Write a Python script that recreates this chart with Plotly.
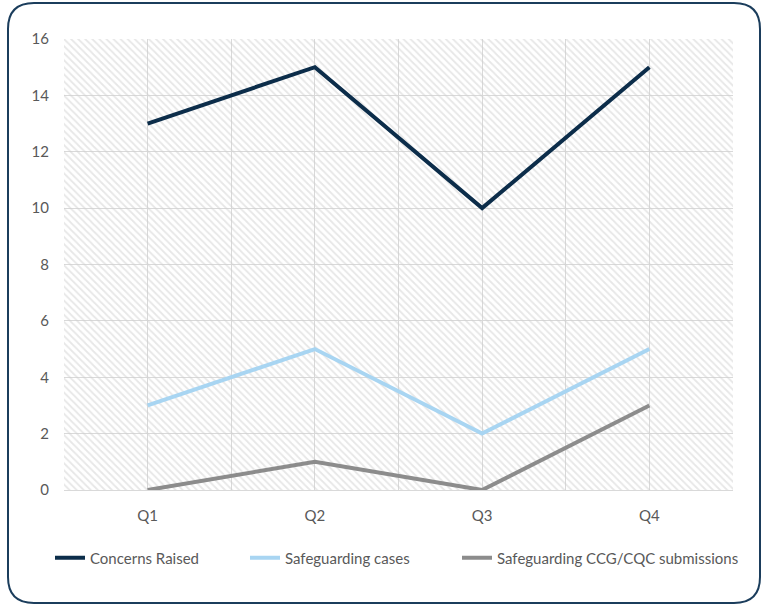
import plotly.graph_objects as go

categories = ["Q1", "Q2", "Q3", "Q4"]
concerns_raised = [13, 15, 10, 15]
safeguarding_cases = [3, 5, 2, 5]
ccg_cqc_submissions = [0, 1, 0, 3]
y_max = 16

idx = list(range(len(categories)))
font_family = "Lato, 'Open Sans', sans-serif"
tick_color = "#595959"
grid_color = "#d9d9d9"

fig = go.Figure()

# hatched plot-area background
fig.add_trace(go.Bar(
    x=idx, y=[y_max] * len(idx), width=1,
    marker=dict(color="rgba(0,0,0,0)", line=dict(width=0),
                pattern=dict(shape="\\", fgcolor="#cfcfcf", bgcolor="rgba(0,0,0,0)",
                             size=5, solidity=0.35)),
    showlegend=False, hoverinfo="skip",
))

series = [
    ("Concerns Raised", concerns_raised, "#0c2d4a", "legend"),
    ("Safeguarding cases", safeguarding_cases, "#a8d5f2", "legend2"),
    ("Safeguarding CCG/CQC submissions", ccg_cqc_submissions, "#8c8c8c", "legend3"),
]
for name, vals, col, lg in series:
    fig.add_trace(go.Scatter(x=idx, y=vals, name=name, mode="lines", legend=lg,
                             line=dict(color=col, width=4)))

W, H = 762, 606
ml, mr, mt, mb = 64, 29, 39, 116
pw = W - ml - mr

# rounded border in pixel coordinates relative to the plot area's bottom-left
x0, x1 = 8 - ml, 760 - ml
y0, y1 = (H - 603) - mb, (H - 3) - mb
r = 26
path = (f"M {x0+r},{y0} L {x1-r},{y0} Q {x1},{y0} {x1},{y0+r} "
        f"L {x1},{y1-r} Q {x1},{y1} {x1-r},{y1} L {x0+r},{y1} "
        f"Q {x0},{y1} {x0},{y1-r} L {x0},{y0+r} Q {x0},{y0} {x0+r},{y0} Z")
fig.add_shape(type="path", path=path, xref="paper", yref="paper",
              xsizemode="pixel", ysizemode="pixel", xanchor=0, yanchor=0,
              line=dict(color="#1b3d5c", width=2), fillcolor="rgba(0,0,0,0)",
              layer="above")


def legend_at(px):
    return dict(orientation="h", x=(px - ml) / pw, xanchor="left", y=-0.114, yanchor="top",
                font=dict(size=15, color=tick_color), bgcolor="rgba(0,0,0,0)")


fig.update_layout(
    width=W, height=H,
    margin=dict(l=ml, r=mr, t=mt, b=mb),
    paper_bgcolor="white", plot_bgcolor="white",
    font=dict(family=font_family, size=15, color=tick_color),
    bargap=0,
    showlegend=True,
    legend=legend_at(50),
    legend2=legend_at(245),
    legend3=legend_at(457),
    xaxis=dict(
        tickmode="array", tickvals=idx, ticktext=categories,
        range=[-0.5, len(idx) - 0.5],
        showgrid=True, gridcolor=grid_color, gridwidth=1,
        minor=dict(tick0=0.5, dtick=1, showgrid=True, gridcolor=grid_color, gridwidth=1),
        showline=True, linecolor=grid_color, linewidth=1,
        ticks="", zeroline=False, ticklabelstandoff=12,
        tickfont=dict(size=15, color=tick_color),
    ),
    yaxis=dict(
        range=[0, y_max], dtick=2, tick0=0,
        showgrid=True, gridcolor=grid_color, gridwidth=1,
        zeroline=False, showline=False, ticks="",
        ticklabelstandoff=14,
        tickfont=dict(size=15, color=tick_color),
    ),
)

fig.write_html("out.html", post_script="document.body.style.margin='0';",
               config={"displayModeBar": False})
